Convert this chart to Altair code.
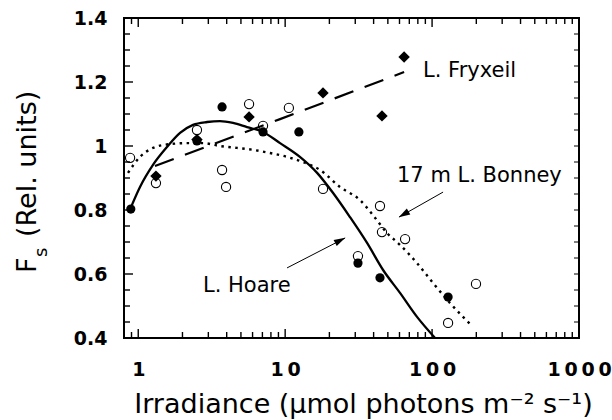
import altair as alt
import pandas as pd

# ---------------- data ----------------
# L. Hoare (filled circles)
hoare_x = [0.89, 2.51, 3.72, 7.07, 12.4, 31.3, 44.2, 128.5]
hoare_y = [0.803, 1.016, 1.122, 1.044, 1.044, 0.634, 0.588, 0.528]
# 17 m L. Bonney (open circles)
bonney_x = [0.88, 1.32, 2.51, 3.72, 3.96, 5.68, 7.07, 10.6, 18.1, 31.3, 44.2, 45.6, 65.5, 128.5, 199]
bonney_y = [0.963, 0.884, 1.05, 0.925, 0.872, 1.131, 1.063, 1.119, 0.866, 0.656, 0.8125, 0.731, 0.709, 0.447, 0.569]
# L. Fryxell (diamonds)
fryx_x = [1.32, 2.51, 5.68, 18.1, 45.6, 64.5]
fryx_y = [0.906, 1.02, 1.091, 1.166, 1.094, 1.278]

# fitted curves
hoare_fit_x = [0.893, 1.028, 1.26, 1.57, 1.925, 2.36, 2.94, 3.60, 4.42, 5.50, 7.07,
               9.23, 12.6, 16.5, 21.2, 27.6, 36.1, 46.4, 60.5, 79.0, 104.8]
hoare_fit_y = [0.809, 0.872, 0.941, 0.997, 1.041, 1.066, 1.075, 1.078, 1.072, 1.059, 1.044,
               1.009, 0.966, 0.916, 0.853, 0.778, 0.697, 0.6125, 0.541, 0.466, 0.4]
bonney_fit_x = [0.852, 1.028, 1.26, 1.645, 2.15, 2.76, 3.60, 4.70, 6.04, 7.89, 10.3,
                13.2, 17.3, 23.6, 32.3, 39.6, 49.4, 60.5, 79.0, 101.5, 132.6, 184]
bonney_fit_y = [0.916, 0.966, 0.994, 1.006, 1.009, 1.009, 1.0, 0.994, 0.988, 0.978, 0.966,
                0.95, 0.925, 0.872, 0.831, 0.784, 0.728, 0.691, 0.634, 0.572, 0.509, 0.441]
fryx_fit_x = [1.30, 9.23, 64.5]
fryx_fit_y = [0.9375, 1.084, 1.231]

# annotation labels (anchor in data units)
label_text = ["L. Fryxeil", "17 m L. Bonney", "L. Hoare"]
label_x = [86.8, 57.7, 2.76]
label_y = [1.216, 0.8875, 0.544]

# arrows: tail -> tip, and arrowhead centres/angles
arrow_x = [118.8, 10.3]
arrow_y = [0.856, 0.619]
arrow_x2 = [59.6, 25.6]
arrow_y2 = [0.778, 0.7125]
head_x = [64.6, 23.5]
head_y = [0.7875, 0.704]
head_angle = [240, 63]

# axis ticks / labels
x_tick_labels = [1, 10, 100, 1000]
x_major = [1, 10, 100]
x_minor = [0.9, 2, 3, 4, 5, 6, 7, 8, 9, 20, 30, 40, 50, 60, 70, 80, 90,
           200, 300, 400, 500, 600, 700, 800, 900]
y_tick_labels = [0.4, 0.6, 0.8, 1.0, 1.2, 1.4]
y_minor = [0.45, 0.5, 0.55, 0.65, 0.7, 0.75, 0.85, 0.9, 0.95,
           1.05, 1.1, 1.15, 1.25, 1.3, 1.35]
y_all = [0.45, 0.5, 0.55, 0.6, 0.65, 0.7, 0.75, 0.8, 0.85, 0.9, 0.95, 1.0,
         1.05, 1.1, 1.15, 1.2, 1.25, 1.3, 1.35]

W, H = 455, 320
FONT = "DejaVu Sans"

X_SCALE = alt.Scale(type="log", domain=[0.8, 1000], nice=False)
Y_SCALE = alt.Scale(domain=[0.4, 1.4], nice=False, zero=False)
SP = "\u2009"

X_AXIS = alt.Axis(
    values=x_tick_labels, format="d",
    labelExpr="join(split(datum.label, ''), '" + SP + "')",
    labelFlush=False, labelOverlap=False, labelBaseline="alphabetic", labelPadding=37,
    labelFont=FONT, labelFontWeight="bold", labelFontSize=19, labelColor="black",
    title="Irradiance (µmol photons m⁻² s⁻¹)", titleX=239, titleY=74,
    titleAlign="center", titleBaseline="alphabetic", titleFontSize=27, titleFont=FONT,
    titleFontWeight="normal", titleColor="black",
    ticks=False, tickSize=0, domain=False, grid=False,
)
Y_AXIS = alt.Axis(
    values=y_tick_labels, format="~g",
    labelFlush=False, labelOverlap=False, labelPadding=17, labelBaseline="middle",
    labelFont=FONT, labelFontWeight="bold", labelFontSize=19, labelColor="black",
    title="", ticks=False, tickSize=0, domain=False, grid=False,
)


def X(f="x"):
    return alt.X(f"{f}:Q", scale=X_SCALE, axis=X_AXIS)


def Y(f="y"):
    return alt.Y(f"{f}:Q", scale=Y_SCALE, axis=Y_AXIS)


def df(xs, ys):
    return pd.DataFrame({"x": xs, "y": ys})


layers = []

# fitted curves
layers.append(alt.Chart(df(hoare_fit_x, hoare_fit_y)).mark_line(
    color="black", strokeWidth=2.3, interpolate="monotone").encode(x=X(), y=Y()))
layers.append(alt.Chart(df(bonney_fit_x, bonney_fit_y)).mark_line(
    color="black", strokeWidth=2.4, strokeDash=[2.5, 4.5], interpolate="monotone").encode(x=X(), y=Y()))
layers.append(alt.Chart(df(fryx_fit_x, fryx_fit_y)).mark_line(
    color="black", strokeWidth=2.2, strokeDash=[20, 12]).encode(x=X(), y=Y()))

# data points
layers.append(alt.Chart(df(bonney_x, bonney_y)).mark_point(
    shape="circle", filled=False, size=85, color="black", strokeWidth=1.1, opacity=1).encode(x=X(), y=Y()))
layers.append(alt.Chart(df(hoare_x, hoare_y)).mark_point(
    shape="circle", filled=True, size=85, color="black", opacity=1).encode(x=X(), y=Y()))
layers.append(alt.Chart(df(fryx_x, fryx_y)).mark_point(
    shape="diamond", filled=True, size=130, color="black", opacity=1).encode(x=X(), y=Y()))

# annotations
ann = pd.DataFrame({"x": label_x, "y": label_y, "t": label_text})
layers.append(alt.Chart(ann).mark_text(
    align="left", baseline="alphabetic", font=FONT, fontSize=21, color="black").encode(
    x=X(), y=Y(), text="t:N"))

arr = pd.DataFrame({"x": arrow_x, "y": arrow_y, "x2": arrow_x2, "y2": arrow_y2})
layers.append(alt.Chart(arr).mark_rule(color="black", strokeWidth=1).encode(
    x=X(), y=Y(), x2=alt.X2("x2:Q"), y2=alt.Y2("y2:Q")))
heads = pd.DataFrame({"x": head_x, "y": head_y, "a": head_angle})
layers.append(alt.Chart(heads).mark_point(
    shape="M0,-1L0.55,0.8L-0.55,0.8Z", filled=True, size=160, color="black", opacity=1).encode(
    x=X(), y=Y(), angle=alt.Angle("a:Q", scale=None)))

# inward tick marks (left, right, bottom, top)
ymaj = pd.DataFrame({"y": y_tick_labels})
ymin = pd.DataFrame({"y": y_minor})
yall = pd.DataFrame({"y": y_all})
xmaj = pd.DataFrame({"x": x_major})
xmin = pd.DataFrame({"x": x_minor})
TK = dict(color="black", strokeWidth=1.4)
layers.append(alt.Chart(ymaj).mark_rule(**TK).encode(y=Y(), x=alt.value(0), x2=alt.value(9)))
layers.append(alt.Chart(ymin).mark_rule(**TK).encode(y=Y(), x=alt.value(0), x2=alt.value(6)))
layers.append(alt.Chart(yall).mark_rule(color="black", strokeWidth=1).encode(
    y=Y(), x=alt.value(W - 5), x2=alt.value(W)))
layers.append(alt.Chart(xmaj).mark_rule(**TK).encode(x=X(), y=alt.value(H), y2=alt.value(H - 9)))
layers.append(alt.Chart(xmin).mark_rule(**TK).encode(x=X(), y=alt.value(H), y2=alt.value(H - 6)))
layers.append(alt.Chart(xmaj).mark_rule(**TK).encode(x=X(), y=alt.value(0), y2=alt.value(9)))
layers.append(alt.Chart(xmin).mark_rule(**TK).encode(x=X(), y=alt.value(0), y2=alt.value(6)))

# y-axis title with subscript, drawn as rotated text
layers.append(alt.Chart(pd.DataFrame({"t": ["F"]})).mark_text(
    angle=270, align="left", baseline="alphabetic", font=FONT, fontSize=27, color="black").encode(
    text="t:N", x=alt.value(-88), y=alt.value(255)))
layers.append(alt.Chart(pd.DataFrame({"t": ["s"]})).mark_text(
    angle=270, align="left", baseline="alphabetic", font=FONT, fontSize=18, color="black").encode(
    text="t:N", x=alt.value(-77), y=alt.value(239)))
layers.append(alt.Chart(pd.DataFrame({"t": ["(Rel. units)"]})).mark_text(
    angle=270, align="left", baseline="alphabetic", font=FONT, fontSize=27, color="black").encode(
    text="t:N", x=alt.value(-88), y=alt.value(219)))

chart = alt.layer(*layers).properties(
    width=W, height=H,
    padding={"left": 124, "top": 18, "right": 33, "bottom": 82},
    autosize=alt.AutoSizeParams(type="none"),
    background="white",
).configure_view(stroke="black", strokeWidth=2)

chart.save("out.html", embed_options={"renderer": "svg", "actions": False})
